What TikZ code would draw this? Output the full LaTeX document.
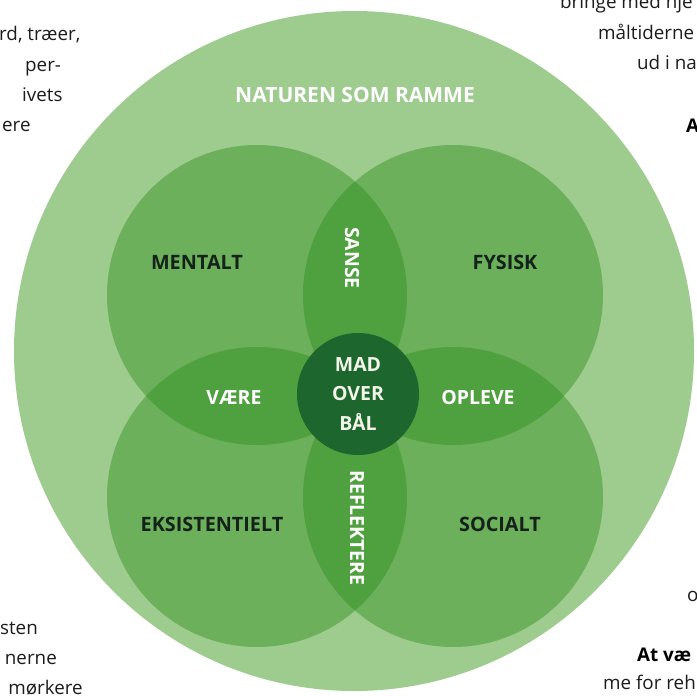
\documentclass[tikz,border=0pt]{standalone}
\usepackage{fontspec}
\setmainfont{Open Sans}
\definecolor{ramme}{RGB}{158,203,142}
\definecolor{petal}{RGB}{40,140,25}
\definecolor{centre}{RGB}{29,102,46}
\definecolor{darklabel}{RGB}{20,34,25}
\definecolor{bodytext}{RGB}{28,28,28}
\definecolor{cream}{RGB}{242,245,232}
\begin{document}
\begin{tikzpicture}[x=1pt,y=-1pt,
  petalcircle/.style={circle, minimum size=300pt, inner sep=0pt, fill=petal, fill opacity=0.42, text opacity=1},
  petallabel/.style={font=\fontsize{19.8}{22}\selectfont\bfseries, text=darklabel, inner sep=0pt},
  lenslabel/.style={font=\fontsize{19.5}{22}\selectfont\bfseries, text=white, inner sep=0pt},
  bodyline/.style={font=\fontsize{18.8}{20}\selectfont, text=bodytext, inner sep=0pt, anchor=base west},
  bodyend/.style={font=\fontsize{18.8}{20}\selectfont, text=bodytext, inner sep=0pt, anchor=base east},
  boldline/.style={font=\fontsize{18.8}{20}\selectfont\bfseries, text=black, inner sep=0pt, anchor=base west}]
\useasboundingbox (0,0) rectangle (697,696);
\clip (0,0) rectangle (697,696);
\fill[white] (0,0) rectangle (697,696);
% frame circle
\node[circle, minimum size=680pt, inner sep=0pt, fill=ramme] (ramme) at (354,351) {};
% four petal circles
\node[petalcircle] (mentalt) at (257,295) {};
\node[petalcircle] (fysisk) at (453,295) {};
\node[petalcircle] (eksist) at (257,497) {};
\node[petalcircle] (socialt) at (453,497) {};
% centre
\node[circle, minimum size=122pt, inner sep=0pt, fill=centre] (mad) at (358,394) {};
% labels
\node[lenslabel, font=\fontsize{21}{22}\selectfont\bfseries] (natur) at (355,95) {NATUREN SOM RAMME};
\node[petallabel] (lmentalt) at (197,262) {MENTALT};
\node[petallabel] (lfysisk) at (505,262) {FYSISK};
\node[petallabel] (leksist) at (212,524) {EKSISTENTIELT};
\node[petallabel] (lsocialt) at (500,524) {SOCIALT};
\node[lenslabel, rotate=-90] (sanse) at (352,258) {SANSE};
\node[lenslabel, rotate=-90] (reflektere) at (357,528) {REFLEKTERE};
\node[lenslabel] (vaere) at (234,398) {VÆRE};
\node[lenslabel] (opleve) at (478,398) {OPLEVE};
\node[lenslabel, text=cream, align=center, font=\fontsize{19.5}{29.5}\selectfont\bfseries] (madtext) at (mad.center) {MAD\\OVER\\BÅL};
% surrounding page text fragments
\node[bodyline] (t1) at (-1,41) {rd, træer,};
\node[bodyline] (t2) at (25,71) {per-};
\node[bodyline] (t3) at (22,101) {ivets};
\node[bodyline] (t4) at (2,131) {ere};
\node[bodyline] (t5) at (560,9) {bringe med hje};
\node[bodyline] (t6) at (598,39) {måltiderne};
\node[bodyline] (t7) at (637,69) {ud i na};
\node[boldline] (t8) at (686,132) {A};
\node[bodyend] (b1) at (38,634) {sten};
\node[bodyend] (b2) at (57,664) {nerne};
\node[bodyend] (b3) at (83,694) {mørkere};
\node[bodyline] (b4) at (687,601) {o};
\node[boldline] (b5) at (637,661) {At væ};
\node[bodyline] (b6) at (603,689) {me for reh};
\end{tikzpicture}
\end{document}
